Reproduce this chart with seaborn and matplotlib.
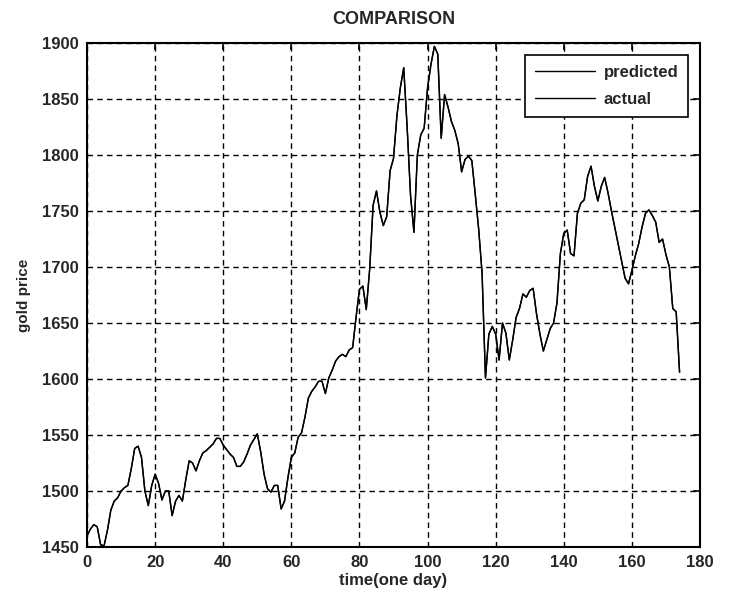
import pandas as pd
import matplotlib
matplotlib.use('Agg')
import matplotlib.pyplot as plt
import seaborn as sns

# valores (um por dia)
dias = list(range(175))
actual = [
    1460, 1466, 1470, 1468, 1452, 1451, 1465, 1483, 1491, 1494,
    1500, 1503, 1505, 1520, 1538, 1540, 1530, 1500, 1487, 1505,
    1515, 1507, 1492, 1500, 1500, 1478, 1491, 1496, 1491, 1510,
    1527, 1525, 1518, 1527, 1534, 1536, 1539, 1542, 1547, 1547,
    1541, 1537, 1533, 1530, 1522, 1522, 1526, 1533, 1541, 1546,
    1551, 1535, 1515, 1502, 1499, 1505, 1505, 1484, 1491, 1512,
    1530, 1534, 1548, 1552, 1566, 1583, 1589, 1593, 1598, 1598,
    1587, 1601, 1608, 1616, 1620, 1622, 1620, 1626, 1628, 1655,
    1680, 1683, 1662, 1698, 1755, 1768, 1749, 1737, 1745, 1786,
    1797, 1835, 1860, 1878, 1825, 1764, 1731, 1800, 1818, 1824,
    1860, 1881, 1897, 1890, 1815, 1854, 1843, 1830, 1822, 1810,
    1785, 1796, 1799, 1795, 1765, 1734, 1695, 1601, 1640, 1647,
    1640, 1617, 1650, 1641, 1617, 1635, 1655, 1663, 1676, 1673,
    1679, 1681, 1658, 1640, 1625, 1635, 1645, 1650, 1668, 1712,
    1730, 1733, 1712, 1710, 1748, 1757, 1760, 1781, 1790, 1772,
    1759, 1772, 1780, 1766, 1750, 1735, 1720, 1705, 1690, 1685,
    1697, 1710, 1721, 1736, 1748, 1751, 1746, 1740, 1722, 1725,
    1711, 1700, 1663, 1660, 1606,
]
# a previsao fica por cima da serie real no grafico original
predicted = list(actual)

x_ticks = list(range(0, 181, 20))
y_ticks = list(range(1450, 1901, 50))

sns.set_theme(style='white')
plt.rcParams['font.family'] = ['Liberation Sans', 'DejaVu Sans']
plt.rcParams['font.weight'] = 'bold'

dados = pd.concat([
    pd.DataFrame({'dia': dias, 'preco': predicted, 'serie': 'predicted'}),
    pd.DataFrame({'dia': dias, 'preco': actual, 'serie': 'actual'}),
])

fig = plt.figure(figsize=(7.33, 6.0), dpi=100)
ax = fig.add_axes([0.1187, 0.0883, 0.8363, 0.84])

sns.lineplot(data=dados, x='dia', y='preco', hue='serie',
             palette={'predicted': 'black', 'actual': 'black'},
             linewidth=1.0, ax=ax)

ax.set_xlim(0, 180)
ax.set_ylim(1450, 1900)
ax.set_xticks(x_ticks)
ax.set_yticks(y_ticks)
ax.grid(True, color='black', linestyle=(0, (4, 3)), linewidth=1.0)
ax.tick_params(direction='in', top=True, right=True, length=5,
               width=1.2, color='black', labelsize=12, pad=6)
for lbl in ax.get_xticklabels() + ax.get_yticklabels():
    lbl.set_fontweight('bold')
for sp in ax.spines.values():
    sp.set_color('black')
    sp.set_linewidth(1.5)

ax.set_title('COMPARISON', fontsize=13, fontweight='bold', pad=14)
ax.set_xlabel('time(one day)', fontsize=12, fontweight='bold', labelpad=2)
ax.set_ylabel('gold price', fontsize=11, fontweight='bold', labelpad=8)

leg = ax.legend(loc='upper right', fontsize=12, frameon=True, fancybox=False,
                edgecolor='black', framealpha=1, handlelength=3.6,
                borderpad=0.6, labelspacing=0.75, borderaxespad=0.7,
                handletextpad=0.5)
leg.get_frame().set_linewidth(1.2)
for t in leg.get_texts():
    t.set_fontweight('bold')

fig.savefig('out.png', dpi=100)
